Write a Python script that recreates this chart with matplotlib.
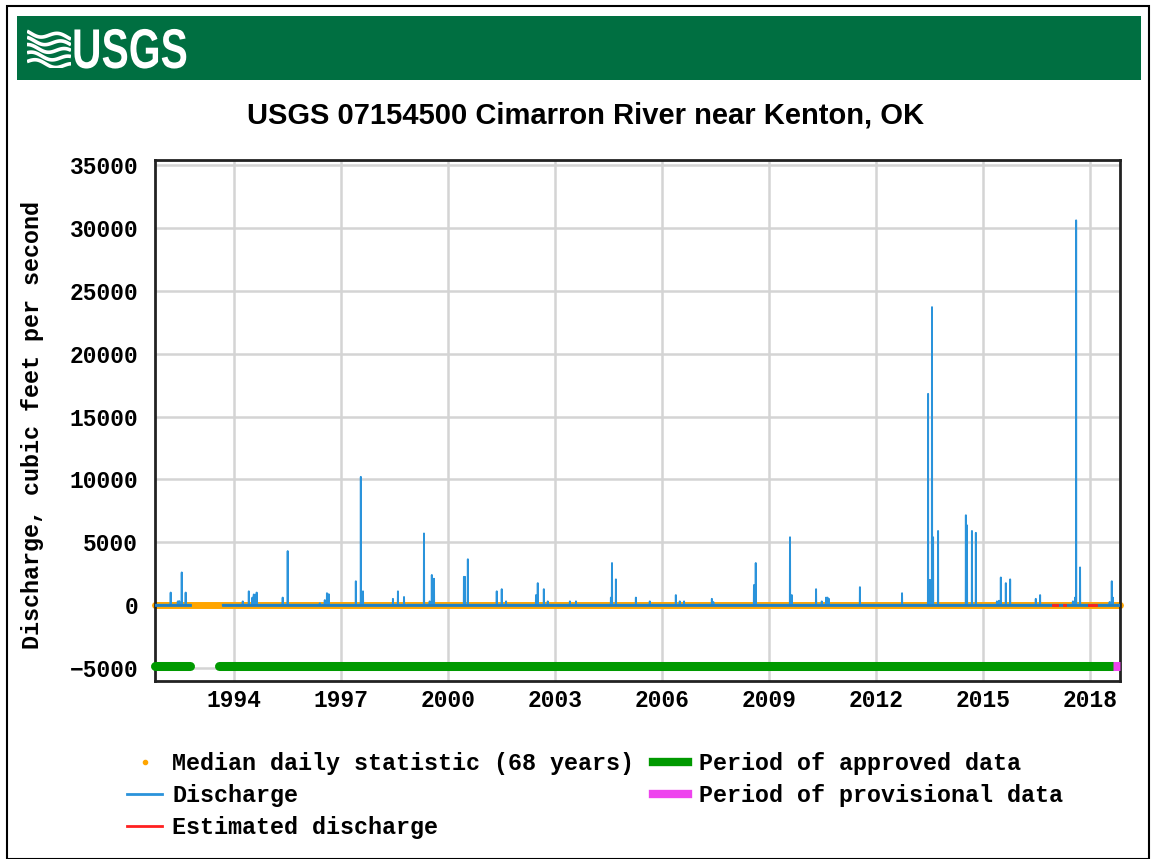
#!/usr/bin/env python3
"""
USGS 07154500 Cimarron River near Kenton, OK - daily discharge, 1991-2018
"""
import numpy as np
import matplotlib
matplotlib.use("Agg")
import matplotlib.pyplot as plt
from matplotlib.lines import Line2D
from matplotlib.patches import Rectangle, PathPatch
from matplotlib.textpath import TextPath
from matplotlib.font_manager import FontProperties
from matplotlib.transforms import Affine2D

# ---- data (decimal years, cfs) ----
record_start = 1991.79
record_end = 2018.84
base_flow = 30.0

# periods with no discharge record
gaps = [(1992.78, 1993.69), (1998.80, 1998.88), (2007.03, 2007.06)]

# peaks (date, cfs)
event_year = [1992.23, 1992.43, 1992.47, 1992.54, 1992.65,
              1994.25, 1994.42, 1994.52, 1994.56, 1994.59, 1994.64,
              1995.37, 1995.51, 1996.41, 1996.55, 1996.61, 1996.66,
              1997.42, 1997.56, 1997.62, 1998.46, 1998.60, 1998.77,
              1999.33, 1999.49, 1999.55, 1999.61,
              2000.45, 2000.48, 2000.56, 2001.37, 2001.51, 2001.63,
              2002.47, 2002.52, 2002.69, 2002.80, 2003.42, 2003.59,
              2004.57, 2004.60, 2004.71, 2005.27, 2005.66,
              2006.39, 2006.50, 2006.62, 2007.40, 2007.44,
              2008.58, 2008.63, 2009.59, 2009.64,
              2010.32, 2010.48, 2010.60, 2010.64, 2010.68, 2011.55, 2012.73,
              2013.46, 2013.48, 2013.52, 2013.57, 2013.60, 2013.74,
              2014.52, 2014.55, 2014.69, 2014.80,
              2015.39, 2015.45, 2015.50, 2015.64, 2015.76,
              2016.48, 2016.60, 2017.52, 2017.58, 2017.61, 2017.72,
              2018.55, 2018.61, 2018.64]
event_peak = [1000, 300, 320, 2600, 1000,
              300, 1100, 600, 850, 800, 1000,
              600, 4300, 150, 400, 950, 870,
              1900, 10200, 1100, 500, 1100, 650,
              5700, 300, 2400, 2100,
              2250, 2250, 3650, 1100, 1270, 300,
              800, 1750, 1270, 300, 300, 300,
              600, 3350, 2050, 600, 300,
              800, 300, 300, 500, 250,
              1600, 3350, 5400, 800,
              1270, 300, 600, 600, 500, 1430, 950,
              16800, 2000, 2000, 23700, 5400, 5900,
              7150, 6350, 5900, 5750,
              300, 350, 2200, 1750, 2050,
              500, 800, 300, 600, 30600, 3000,
              250, 1900, 600]

# estimated discharge periods
estimated = [(2016.96, 2017.07), (2017.28, 2017.31), (2017.98, 2018.18)]

# data-approval periods
approved = [(1991.79, 1992.77), (1993.58, 2018.64)]
provisional = [(2018.64, 2018.84)]
median_flow = 20.0

# ---- build the discharge line ----
t = [record_start]
q = [base_flow]
for yr, pk in sorted(zip(event_year, event_peak)):
    t += [yr - 0.004, yr, yr + 0.004]
    q += [base_flow, pk, base_flow]
t.append(record_end)
q.append(base_flow)
t = np.array(t)
q = np.array(q, dtype=float)
for g0, g1 in gaps:
    ins = np.searchsorted(t, [g0, g1])
    t = np.insert(t, ins, [g0, g1])
    q = np.insert(q, ins, [base_flow, base_flow])
    q[(t > g0) & (t < g1)] = np.nan
    # break the line
    k = np.searchsorted(t, g0) + 1
    t = np.insert(t, k, (g0 + g1) / 2)
    q = np.insert(q, k, np.nan)

mono = "Liberation Mono"
fs = 16.5
fs_leg = 16.8

fig = plt.figure(figsize=(11.56, 8.59), dpi=100)
fig.patch.set_facecolor("white")

# page frame + USGS banner
W, H = 1156.0, 859.0
fig.patches.append(Rectangle((7 / W, 0), 1142 / W, 1 - 6 / H, transform=fig.transFigure,
                             fill=False, edgecolor="black", lw=1.5))
fig.patches.append(Rectangle((17 / W, 1 - 80 / H), 1124 / W, 64 / H, transform=fig.transFigure,
                             facecolor="#006f41", edgecolor="none"))
# wave mark of the logo
lg = fig.add_axes([27 / W, 1 - 68 / H, 44 / W, 40 / H], zorder=5)
lg.set_xlim(0, 1)
lg.set_ylim(0, 1)
lg.axis("off")
xx = np.linspace(0, 1, 60)
for k in range(5):
    y0 = 0.16 + k * 0.18
    lg.plot(xx, y0 + 0.07 * np.sin(2 * np.pi * (xx * 1.2 + 0.1 * k)) - 0.12 * xx,
            color="white", lw=2.6, solid_capstyle="butt")
# "USGS" word mark, narrowed bold sans
tp = TextPath((0, 0), "USGS", size=56, prop=FontProperties(family="Liberation Sans", weight="bold"))
tr = Affine2D().scale(0.73, 1.0).translate(72, H - 68)
fig.add_artist(PathPatch(tp, transform=tr, facecolor="white", edgecolor="none", zorder=6))

fig.text(586 / W, 1 - 115 / H, "USGS 07154500 Cimarron River near Kenton, OK",
         ha="center", va="center", fontsize=21, fontweight="bold",
         family="Liberation Sans")

ax = fig.add_axes([155 / W, 1 - 681 / H, 965 / W, 521 / H])
x0, x1 = 1991.79, 2018.84
ax.set_xlim(x0, x1)
ax.set_ylim(-6030, 35400)

ax.set_yticks(np.arange(-5000, 35001, 5000))
ax.set_xticks(np.arange(1994, 2019, 3))
ax.grid(True, color="#d4d4d4", lw=1.8)
ax.set_axisbelow(True)
ax.tick_params(length=0, pad=6)
ax.tick_params(axis="y", pad=12)
for lab in ax.get_xticklabels() + ax.get_yticklabels():
    lab.set_family(mono)
    lab.set_fontweight("bold")
    lab.set_fontsize(fs)
for sp in ax.spines.values():
    sp.set_color("#222222")
    sp.set_linewidth(2)

# median daily statistic
ax.plot([record_start, record_end], [median_flow, median_flow], color="#ffa500",
        lw=5, solid_capstyle="round", clip_on=False, zorder=2)
# discharge
ax.plot(t, q, color="#2a93db", lw=1.4, zorder=3)
ax.plot([record_start, gaps[0][0]], [base_flow, base_flow], color="#1f7fc4", lw=2, zorder=3)
ax.plot([gaps[0][1], record_end], [base_flow, base_flow], color="#1f7fc4", lw=2, zorder=3)
# estimated
for e0, e1 in estimated:
    ax.plot([e0, e1], [base_flow, base_flow], color="#ff2020", lw=2, zorder=4)
# approval bars
for a0, a1 in approved:
    ax.plot([a0, a1], [-4850, -4850], color="#009900", lw=6.5, solid_capstyle="round",
            clip_on=False, zorder=4)
for p0, p1 in provisional:
    ax.plot([p0, p1], [-4850, -4850], color="#ee44ee", lw=6.5, solid_capstyle="butt",
            clip_on=False, zorder=4)

fig.text(33 / W, 1 - 425 / H, "Discharge, cubic feet per second", rotation=90,
         ha="center", va="center", family=mono, fontweight="bold", fontsize=fs_leg)

handles = [Line2D([], [], color="#ffa500", marker="o", ms=3, ls="none"),
           Line2D([], [], color="#2a93db", lw=2),
           Line2D([], [], color="#ff2020", lw=2),
           Line2D([], [], color="#009900", lw=6),
           Line2D([], [], color="#ee44ee", lw=6)]
labels = ["Median daily statistic (68 years)", "Discharge", "Estimated discharge",
          "Period of approved data", "Period of provisional data"]
fig.legend(handles, labels, ncol=2, loc="upper left",
           bbox_to_anchor=(127 / W, 1 - 752 / H), frameon=False,
           prop={"family": mono, "weight": "bold", "size": fs_leg},
           handlelength=1.5, handletextpad=0.45, columnspacing=0.8,
           labelspacing=0.38, borderpad=0, borderaxespad=0)

fig.savefig("out.png", dpi=100)
plt.close(fig)
